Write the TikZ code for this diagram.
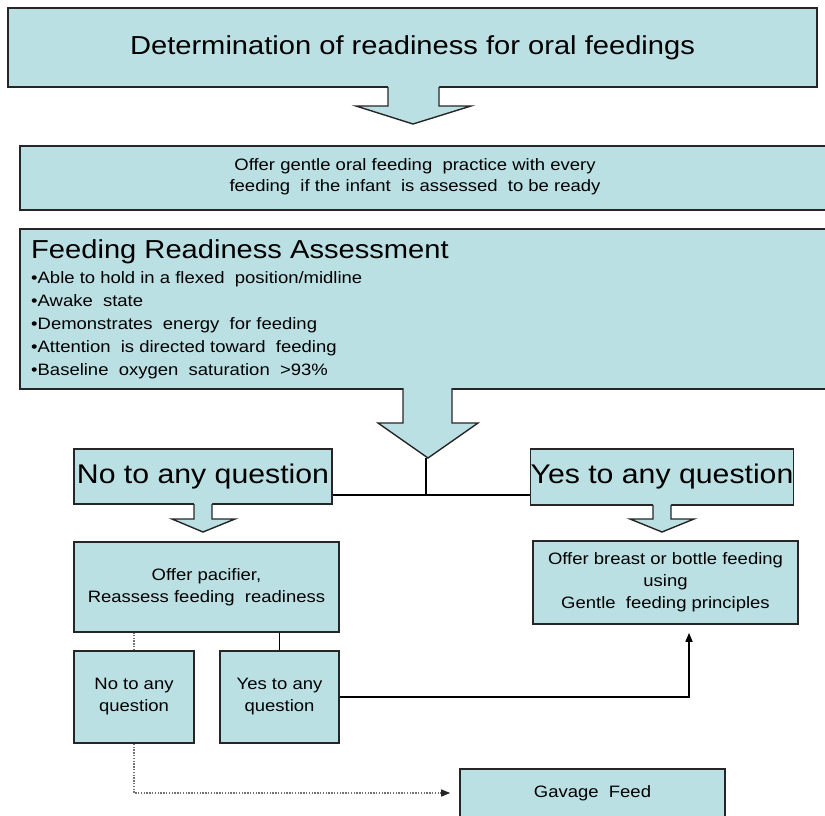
\documentclass[tikz,border=0pt]{standalone}
\usepackage{fontspec}
\setmainfont{Liberation Sans}[FakeStretch=1.12]
\usetikzlibrary{arrows.meta}
\definecolor{boxblue}{RGB}{187,224,228}
\tikzset{
  box/.style={draw=black!85, line width=1.6pt, fill=boxblue, inner sep=0pt},
  arrowfill/.style={fill=boxblue},
  arrowedge/.style={draw=black!85, line width=1.4pt},
  conn/.style={draw=black, line width=1.6pt},
  dotconn/.style={draw=black!55, line width=1.4pt, dash pattern=on 1.4pt off 1.4pt},
  bigtext/.style={font=\fontsize{26}{30}\selectfont},
  smalltext/.style={font=\fontsize{16.5}{22}\selectfont, align=center},
}
\begin{document}
\begin{tikzpicture}[x=1pt, y=-1pt]
  \useasboundingbox (0,0) rectangle (825,815);
  \clip (0,0) rectangle (825,815);
  %
  \node[box, bigtext, minimum width=809pt, minimum height=79pt] (topbox) at (412.5,47.5)
    {Determination of readiness for oral feedings};
  %
  % practice box and assessment box run off the right edge
  \node[box, anchor=north west, minimum width=830pt, minimum height=64pt] (offer) at (19,145) {};
  \node[smalltext, font=\fontsize{16.5}{21}\selectfont] (offertext) at (415,177)
    {Offer gentle oral feeding\ \ practice with every\\ feeding\ \ if the infant\ \ is assessed\ \ to be ready};
  %
  \node[box, anchor=north west, minimum width=830pt, minimum height=160pt] (assess) at (19,228) {};
  \node[bigtext, anchor=base west, inner sep=0pt] (assesshead) at (31,258) {Feeding Readiness Assessment};
  \node[font=\fontsize{16.5}{23}\selectfont, align=left, anchor=north west, inner sep=0pt] (assesslist) at (31,271)
    {•Able to hold in a flexed\ \ position/midline\\
     •Awake\ \ state\\
     •Demonstrates\ \ energy\ \ for feeding\\
     •Attention\ \ is directed toward\ \ feeding\\
     •Baseline\ \ oxygen\ \ saturation\ \ >93\%};
  %
  \node[box, bigtext, font=\fontsize{27}{30}\selectfont, minimum width=258pt, minimum height=55pt] (no) at (203,476.5) {No to any question};
  \node[box, bigtext, font=\fontsize{27}{30}\selectfont, minimum width=258pt, minimum height=56pt] (yes) at (662,477) {Yes to any question};
  %
  \node[box, smalltext, minimum width=265pt, minimum height=90pt] (pacifier) at (206.5,587)
    {Offer pacifier,\\ Reassess feeding\ \ readiness};
  \node[box, smalltext, minimum width=265pt, minimum height=83pt] (breast) at (665.5,582.5)
    {Offer breast or bottle feeding\\ using\\ Gentle\ \ feeding principles};
  %
  \node[box, smalltext, minimum width=120pt, minimum height=92pt] (no2) at (134,697) {No to any\\ question};
  \node[box, smalltext, minimum width=119pt, minimum height=92pt] (yes2) at (279.5,697) {Yes to any\\ question};
  %
  \node[box, smalltext, minimum width=265pt, minimum height=48pt] (gavage) at (592.5,793) {Gavage\ \ Feed};
  %
  % block arrows
  \fill[arrowfill] (388,85) -- (388,106) -- (356,106) -- (413,124) -- (471,106) -- (439,106) -- (439,85) -- cycle;
  \draw[arrowedge] (388,87) -- (388,106) -- (356,106) -- (413,124) -- (471,106) -- (439,106) -- (439,87);
  %
  \fill[arrowfill] (403,386) -- (403,423) -- (378,423) -- (428,458) -- (478,423) -- (452,423) -- (452,386) -- cycle;
  \draw[arrowedge] (403,388) -- (403,423) -- (378,423) -- (428,458) -- (478,423) -- (452,423) -- (452,388);
  \coordinate (bigtip) at (426,458);
  %
  \fill[arrowfill] (194,502) -- (194,519) -- (172,519) -- (203,532) -- (235,519) -- (212,519) -- (212,502) -- cycle;
  \draw[arrowedge] (194,504) -- (194,519) -- (172,519) -- (203,532) -- (235,519) -- (212,519) -- (212,504);
  %
  \fill[arrowfill] (653,503) -- (653,519) -- (630,519) -- (662,532) -- (694,519) -- (671,519) -- (671,503) -- cycle;
  \draw[arrowedge] (653,505) -- (653,519) -- (630,519) -- (662,532) -- (694,519) -- (671,519) -- (671,505);
  %
  % connectors
  \coordinate (split) at (426,495);
  \draw[conn] (bigtip) -- (split);
  \draw[conn] (no.east |- split) -- (yes.west |- split);
  \draw[conn] (yes2.north) -- (yes2.north |- pacifier.south);
  \draw[conn, -{Triangle[length=9pt, width=7pt]}, shorten >=8pt] (yes2.east) -| ([xshift=23.5pt]breast.south);
  \draw[dotconn] (no2.north) -- (no2.north |- pacifier.south);
  \draw[dotconn, -{Triangle[length=9pt, width=7pt, color=black!85]}, shorten >=9pt] (no2.south) |- (gavage.west);
\end{tikzpicture}
\end{document}
